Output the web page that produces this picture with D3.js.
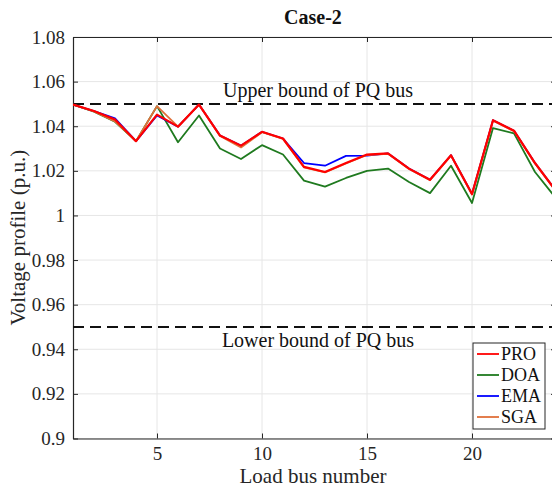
<!DOCTYPE html>
<html><head><meta charset="utf-8">
<script src="https://cdn.jsdelivr.net/npm/d3@7"></script>
<style>body{margin:0;background:#fff}svg{display:block}svg text{font-family:"Liberation Serif","Times New Roman",serif}</style>
</head><body><div id="chart"></div>
<script>
const buses = d3.range(1, 25);
const PRO = [1.0497,1.0468,1.0430,1.0333,1.0452,1.0398,1.0497,1.0358,1.0313,1.0375,1.0345,1.0218,1.0195,1.0235,1.0273,1.0278,1.0210,1.0160,1.0270,1.0096,1.0427,1.0380,1.0235,1.0110];
const DOA = [1.0497,1.0465,1.0420,1.0333,1.0490,1.0328,1.0448,1.0300,1.0253,1.0315,1.0273,1.0156,1.0129,1.0168,1.0200,1.0210,1.0150,1.0100,1.0223,1.0056,1.0392,1.0368,1.0195,1.0077];
const EMA = [1.0497,1.0468,1.0435,1.0333,1.0448,1.0398,1.0497,1.0358,1.0313,1.0375,1.0345,1.0235,1.0223,1.0267,1.0268,1.0278,1.0210,1.0160,1.0270,1.0096,1.0427,1.0380,1.0235,1.0110];
const SGA = [1.0497,1.0466,1.0422,1.0333,1.0490,1.0398,1.0497,1.0356,1.0305,1.0373,1.0343,1.0215,1.0193,1.0233,1.0271,1.0276,1.0208,1.0158,1.0268,1.0094,1.0425,1.0378,1.0233,1.0108];
const seriesNames = ["PRO","DOA","EMA","SGA"];
const seriesColors = ["#ff0000","#1f7a1f","#0000ff","#e0703a"];
const xTicks = [5,10,15,20];
const yTicks = [0.9,0.92,0.94,0.96,0.98,1,1.02,1.04,1.06,1.08];
const yTickLabels = ["0.9","0.92","0.94","0.96","0.98","1","1.02","1.04","1.06","1.08"];
const upperBound = 1.05, lowerBound = 0.95;

const W = 552, H = 489;
const L = 73, R = 556, T = 37, B = 438.5;
const FONT = "'Liberation Serif','Times New Roman',serif";
const svg = d3.select("#chart").append("svg").attr("width", W).attr("height", H);
const x = d3.scaleLinear().domain([1,24]).range([L,R]);
const y = d3.scaleLinear().domain([0.9,1.08]).range([B,T]);
const axisCol = "#262626";

// grid
const g = svg.append("g");
g.selectAll(".gx").data(xTicks).join("line").attr("x1",d=>x(d)).attr("x2",d=>x(d)).attr("y1",T).attr("y2",B).attr("stroke","#e6e6e6").attr("stroke-width",1);
g.selectAll(".gy").data(yTicks).join("line").attr("y1",d=>y(d)).attr("y2",d=>y(d)).attr("x1",L).attr("x2",R).attr("stroke","#e6e6e6").attr("stroke-width",1);

// axes
const ax = d3.axisBottom(x).tickValues(xTicks).tickSizeInner(-5).tickSizeOuter(0).tickPadding(8);
svg.append("g").attr("transform",`translate(0,${B})`).call(ax);
const axT = d3.axisTop(x).tickValues(xTicks).tickSizeInner(-5).tickSizeOuter(0).tickFormat("");
svg.append("g").attr("transform",`translate(0,${T})`).call(axT);
const ay = d3.axisLeft(y).tickValues(yTicks).tickFormat((d,i)=>yTickLabels[i]).tickSizeInner(-5).tickSizeOuter(0).tickPadding(8);
svg.append("g").attr("transform",`translate(${L},0)`).call(ay);
const ayR = d3.axisRight(y).tickValues(yTicks).tickSizeInner(-5).tickSizeOuter(0).tickFormat("");
svg.append("g").attr("transform",`translate(${R},0)`).call(ayR);
svg.selectAll("g[font-family]").attr("font-family",FONT).attr("font-size",19);
svg.selectAll(".domain").attr("stroke",axisCol).attr("stroke-width",1.2);
svg.selectAll(".tick line").attr("stroke",axisCol);
svg.selectAll(".tick text").attr("fill",axisCol).style("font-size","19px").style("font-family",FONT);

// bounds
[upperBound, lowerBound].forEach(v=>{
  svg.append("line").attr("x1",L).attr("x2",R).attr("y1",y(v)).attr("y2",y(v))
    .attr("stroke","#111").attr("stroke-width",2).attr("stroke-dasharray","11,6");
});
svg.append("text").attr("x",318).attr("y",y(upperBound)-7).attr("text-anchor","middle").style("font-size","20px").attr("fill","#111").text("Upper bound of PQ bus");
svg.append("text").attr("x",318).attr("y",y(lowerBound)+20).attr("text-anchor","middle").style("font-size","20px").attr("fill","#111").text("Lower bound of PQ bus");

// lines
const data = {PRO, DOA, EMA, SGA};
const line = d3.line().x((d,i)=>x(buses[i])).y(d=>y(d));
svg.append("clipPath").attr("id","clip").append("rect").attr("x",L).attr("y",T).attr("width",R-L).attr("height",B-T);
const order = ["DOA","EMA","SGA","PRO"];
order.forEach(n=>{
  const i = seriesNames.indexOf(n);
  svg.append("path").datum(data[n]).attr("d",line).attr("fill","none")
    .attr("stroke",seriesColors[i]).attr("stroke-width", n==="PRO"?2.2:1.8).attr("stroke-linejoin","round")
    .attr("clip-path","url(#clip)");
});

// legend
const lg = svg.append("g");
lg.append("rect").attr("x",473).attr("y",343).attr("width",72).attr("height",86).attr("fill","#fff").attr("stroke","#262626").attr("stroke-width",1);
seriesNames.forEach((n,i)=>{
  const yy = 354 + i*21;
  lg.append("line").attr("x1",477).attr("x2",499).attr("y1",yy).attr("y2",yy).attr("stroke",seriesColors[i]).attr("stroke-width",1.8);
  lg.append("text").attr("x",501).attr("y",yy+6).style("font-size","18px").attr("fill","#111").text(n);
});

// titles
svg.append("text").attr("x",313).attr("y",24).attr("text-anchor","middle").style("font-size","20px").style("font-weight","bold").attr("fill","#111").text("Case-2");
svg.append("text").attr("x",313).attr("y",483).attr("text-anchor","middle").style("font-size","21px").attr("fill","#262626").text("Load bus number");
svg.append("text").attr("transform",`translate(25,${(T+B)/2}) rotate(-90)`).attr("text-anchor","middle").style("font-size","21px").attr("fill","#262626").text("Voltage profile (p.u.)");
</script></body></html>
